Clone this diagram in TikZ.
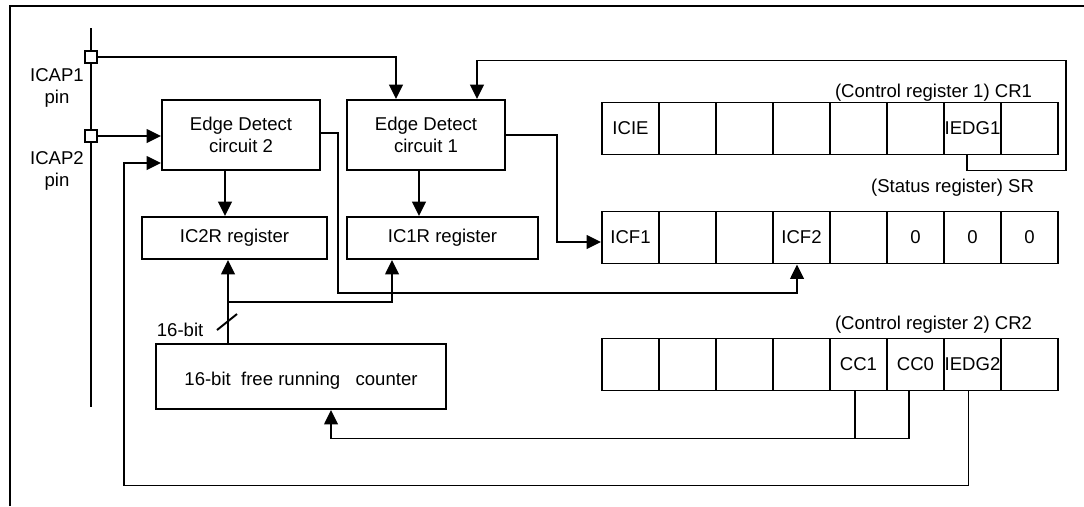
\documentclass[tikz,border=0pt]{standalone}
\usepackage{fontspec}
\setmainfont{Liberation Sans}
\usepackage{tikz}
\usetikzlibrary{arrows.meta,positioning,calc}

\begin{document}
\begin{tikzpicture}[
  x=0.25mm, y=-0.25mm,
  font=\fontsize{13.2pt}{15.6pt}\selectfont,
  line width=1.4pt,
  block/.style={draw,minimum width=39.5mm,minimum height=17.5mm,align=center,inner sep=0pt},
  regbox/.style={draw,minimum height=10.5mm,align=center,inner sep=0pt},
  cell/.style={draw,minimum width=14.25mm,minimum height=13mm,inner sep=0pt},
  pinsq/.style={draw,fill=white,line width=1.2pt,minimum size=3mm,inner sep=0pt},
  reglabel/.style={anchor=base east,inner sep=0pt},
  arrow/.style={-{Triangle[length=3.6mm,width=3.4mm]}}
]
\useasboundingbox (0,0) rectangle (1084,506);
\draw (10,506) -- (10,6) -- (1084,6);
\draw (91,28) -- (91,407);
\node[pinsq] (icap1) at (91,57) {};
\node[pinsq] (icap2) at (91,136) {};
\node[align=center] (icap1lbl) at (57,88) {ICAP1\\pin};
\node[align=center] (icap2lbl) at (57,171) {ICAP2\\pin};
\node[block] (ed2) at (241,135) {Edge Detect\\circuit 2};
\node[block] (ed1) at (426,135) {Edge Detect\\circuit 1};
\node[regbox,minimum width=46.25mm] (ic2r) at (234.5,238) {IC2R register};
\node[regbox,minimum width=47.75mm] (ic1r) at (442.5,238) {IC1R register};
\node[regbox,minimum width=72.5mm,minimum height=16.25mm,text height=16pt] (cnt) at (301,376.5) {16-bit\ \ free running\ \ \ counter};
\foreach \t [count=\i] in {ICIE,{},{},{},{},{},IEDG1,{}}
  \node[cell] (cra\i) at ({573.5+57*\i},128.5) {\t};
\foreach \t [count=\i] in {ICF1,{},{},ICF2,{},0,0,0}
  \node[cell] (sr\i) at ({573.5+57*\i},237.5) {\t};
\foreach \t [count=\i] in {{},{},{},{},CC1,CC0,IEDG2,{}}
  \node[cell] (crb\i) at ({573.5+57*\i},364.5) {\t};
\node[reglabel] (cralbl) at ($(cra8.north east)+(-26,-4.5)$) {(Control register 1) CR1};
\node[reglabel] (srlbl) at ($(sr8.north east)+(-24,-18.5)$) {(Status register) SR};
\node[reglabel] (crblbl) at ($(crb8.north east)+(-26,-8.5)$) {(Control register 2) CR2};
\node[anchor=east] (bits) at ($(cnt.north)+(-92,-13)$) {16-bit};
\draw ($(cnt.north)+(-84,-13)$) -- ++(20,-16);
\draw[arrow] (icap1.east) -| ($(ed1.north)+(-30,0)$);
\draw[arrow] (icap2.east) -- (icap2.east -| ed2.west);
\draw[arrow] ($(crb7.south)+(-4,0)$) -- ++(0,94) -| ($(ed2.west)+(-37,28)$) -- ($(ed2.west)+(0,28)$);
\draw[arrow] ($(ed2.south)+(-16,0)$) -- ($(ic2r.north)+(-9.5,0)$);
\draw[arrow] ($(ed1.south)+(-7,0)$) -- ($(ic1r.north)+(-23.5,0)$);
\draw[arrow] ($(ed2.east)+(0,-2)$) -- ++(17,0) -- ++(0,160) -| ($(sr4.south)+(-4.5,0)$);
\draw[arrow] (ed1.east) -- ++(51,0) |- ($(sr1.west)+(0,4.5)$);
\draw[arrow] ($(cnt.north)+(-73,0)$) -- ($(ic2r.south)+(-6.5,0)$);
\draw[arrow] ($(cnt.north)+(-73,-41)$) -| ($(ic1r.south)+(-50.5,0)$);
\draw ($(crb5.south)+(-3.5,0)$) -- ++(0,47);
\draw[arrow] ($(crb6.south)+(-6.5,0)$) -- ++(0,47) -| ($(cnt.south)+(30,0)$);
\draw[arrow] ($(cra7.south)+(-5.5,0)$) -- ++(0,15) -| ++(99,-110) -| ($(ed1.north)+(51,0)$);
\end{tikzpicture}
\end{document}
